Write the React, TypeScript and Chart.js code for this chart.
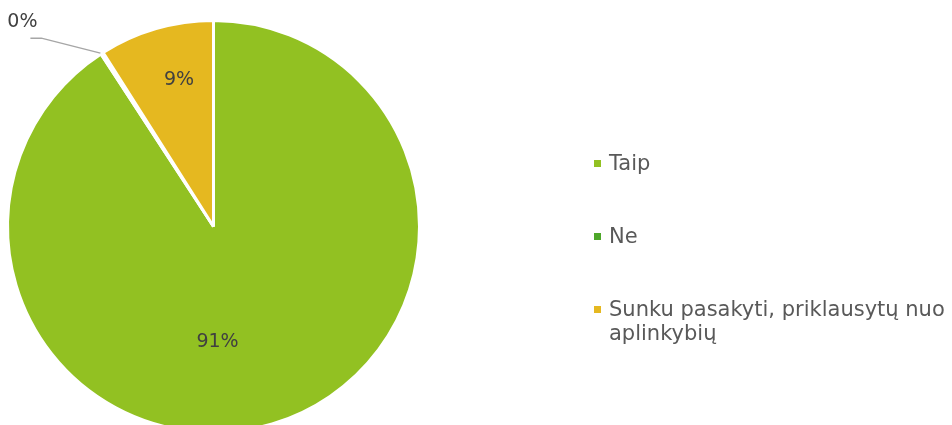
import React, { useEffect, useRef } from "react";
import { Chart, registerables } from "chart.js";

Chart.register(...registerables);

const categories = ["Taip", "Ne", "Sunku pasakyti, priklausytų nuo aplinkybių"];
const values = [90.8, 0.2, 9.0];
const valueLabels = ["91%", "0%", "9%"];
const colors = ["#92C122", "#4EA72A", "#E5B820"];

const labelPlugin = {
  id: "sliceLabels",
  afterDatasetsDraw(chart: any) {
    const ctx = chart.ctx;
    const meta = chart.getDatasetMeta(0);
    ctx.save();
    ctx.font = "19px 'DejaVu Sans', sans-serif";
    ctx.fillStyle = "#404040";
    ctx.textAlign = "center";
    ctx.textBaseline = "middle";
    meta.data.forEach((arc: any, i: number) => {
      const { x, y, startAngle, endAngle, outerRadius } = arc.getProps(
        ["x", "y", "startAngle", "endAngle", "outerRadius"],
        true
      );
      const span = endAngle - startAngle;
      if (span > Math.PI) {
        ctx.fillText(valueLabels[i], x + 4, y + outerRadius * 0.56);
      } else if (span < 0.05) {
        const a = startAngle;
        const ex = x + Math.cos(a) * (outerRadius + 1);
        const ey = y + Math.sin(a) * (outerRadius + 1);
        const kx = ex - 59;
        const ky = ey - 15;
        ctx.strokeStyle = "#A6A6A6";
        ctx.lineWidth = 1.5;
        ctx.beginPath();
        ctx.moveTo(ex, ey);
        ctx.lineTo(kx, ky);
        ctx.lineTo(kx - 11, ky);
        ctx.stroke();
        ctx.fillText(valueLabels[i], kx - 19, ky - 16);
      } else {
        const mid = (startAngle + endAngle) / 2;
        ctx.fillText(
          valueLabels[i],
          x + Math.cos(mid) * outerRadius * 0.74 + 8,
          y + Math.sin(mid) * outerRadius * 0.74
        );
      }
    });
    ctx.restore();
  },
};

export default function App() {
  const ref = useRef<HTMLCanvasElement>(null);
  useEffect(() => {
    document.body.style.margin = "0";
    const chart = new Chart(ref.current!, {
      type: "pie",
      data: {
        labels: categories,
        datasets: [
          {
            data: values,
            backgroundColor: colors,
            borderColor: "#FFFFFF",
            borderWidth: 3,
          },
        ],
      },
      options: {
        animation: false,
        responsive: false,
        devicePixelRatio: 1,
        layout: { padding: { left: 6, top: 19, right: 531, bottom: 11 } },
        plugins: {
          legend: { display: false },
          tooltip: { enabled: false },
        },
      },
      plugins: [labelPlugin],
    });
    return () => chart.destroy();
  }, []);

  const legendItem = (i: number, top: number) => (
    <div
      key={i}
      style={{
        position: "absolute",
        left: 594,
        top,
        display: "flex",
        alignItems: "flex-start",
      }}
    >
      <div
        style={{
          width: 7,
          height: 7,
          background: colors[i],
          marginTop: 9,
          marginRight: 8,
          flex: "none",
        }}
      />
      <div style={{ maxWidth: 345, lineHeight: "24px" }}>{categories[i]}</div>
    </div>
  );

  return (
    <div
      style={{
        position: "relative",
        width: 952,
        height: 425,
        overflow: "hidden",
        background: "#FFFFFF",
        fontFamily: "'DejaVu Sans', sans-serif",
        fontSize: 21,
        color: "#595959",
      }}
    >
      <canvas
        ref={ref}
        width={952}
        height={445}
        style={{ position: "absolute", left: 0, top: 0 }}
      />
      {legendItem(0, 151)}
      {legendItem(1, 224)}
      {legendItem(2, 297)}
    </div>
  );
}
